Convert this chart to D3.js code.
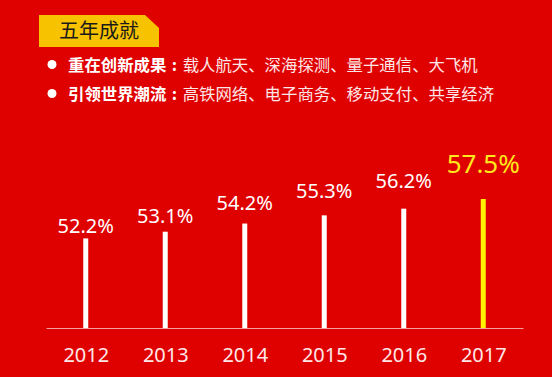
<!DOCTYPE html>
<html lang="zh">
<head>
<meta charset="UTF-8">
<title>五年成就</title>
<script src="https://cdn.jsdelivr.net/npm/d3@7"></script>
<style>
  html, body { margin: 0; padding: 0; background: #fff; }
  svg { display: block; }
</style>
</head>
<body>
<svg id="chart" width="554" height="377"></svg>
<script>
// data
var years = ["2012", "2013", "2014", "2015", "2016", "2017"];
var shares = [52.2, 53.1, 54.2, 55.3, 56.2, 57.5];
var title = "五年成就";
var bulletHeads = ["重在创新成果", "引领世界潮流"];
var bulletTexts = ["载人航天、深海探测、量子通信、大飞机", "高铁网络、电子商务、移动支付、共享经济"];

var W = 554, H = 377;
var red = "#df0000", yellow = "#fff200";
var cjk = "'Noto Sans CJK SC', 'Noto Sans', sans-serif";
var num = "'Noto Sans', 'Open Sans', sans-serif";

var svg = d3.select("#chart");

svg.append("rect").attr("width", W - 2).attr("height", H).attr("fill", red);

// header tag
var tag = svg.append("g");
tag.append("path")
    .attr("d", d3.line()([[39, 15], [145, 15], [159, 28], [159, 47], [39, 47]]))
    .attr("fill", "#f7c200");
tag.append("text")
    .attr("x", 99).attr("y", 38)
    .attr("text-anchor", "middle")
    .attr("font-family", cjk).attr("font-size", 20)
    .attr("fill", "#1a1a1a")
    .text(title);

// bullet lines
var bullets = svg.selectAll("g.bullet")
    .data(bulletHeads)
    .join("g")
    .attr("class", "bullet")
    .attr("transform", function (d, i) { return "translate(0," + (71 + i * 29) + ")"; });
bullets.append("circle").attr("cx", 52).attr("cy", -6.5).attr("r", 4.5).attr("fill", "#fff");
var bt = bullets.append("text")
    .attr("x", 68)
    .attr("font-family", cjk).attr("font-size", 16.4);
bt.append("tspan").attr("font-weight", "bold").attr("fill", "#fff").text(function (d) { return d; });
// colon sits centred in a full-width cell
bt.append("tspan").attr("font-weight", "bold").attr("fill", "#fff")
    .attr("dx", 5.5)
    .text(":");
bt.append("tspan").attr("dx", 5.5).attr("fill", "#fde6e6").text(function (d, i) { return bulletTexts[i]; });

// chart
var base = 328;
var x = d3.scalePoint().domain(years).range([46, 523]).padding(0.5);
var y = d3.scaleLinear().domain([40.15, 57.5]).range([base, 199]);
var labelY = d3.scaleLinear().domain([52.2, 57.5]).range([233, 173]);

var axis = svg.append("g")
    .attr("transform", "translate(0," + base + ")")
    .call(d3.axisBottom(x).tickSize(0).tickPadding(20));
axis.select(".domain").attr("stroke", "#f4a0a0").attr("stroke-width", 1.2);
axis.selectAll("text")
    .attr("font-family", num).attr("font-size", 20)
    .attr("fill", "#fde8e8");

var data = years.map(function (d, i) { return { year: d, v: shares[i], last: i === years.length - 1 }; });

svg.selectAll("rect.bar")
    .data(data)
    .join("rect")
    .attr("class", "bar")
    .attr("x", function (d) { return x(d.year) - 2.5; })
    .attr("width", 5)
    .attr("y", function (d) { return y(d.v); })
    .attr("height", function (d) { return base - y(d.v); })
    .attr("fill", function (d) { return d.last ? yellow : "#fff"; });

svg.selectAll("text.val")
    .data(data)
    .join("text")
    .attr("class", "val")
    .attr("x", function (d) { return x(d.year); })
    .attr("y", function (d) { return labelY(d.v); })
    .attr("text-anchor", "middle")
    .attr("font-family", num)
    .attr("font-size", function (d) { return d.last ? 26 : 20; })
    .attr("fill", function (d) { return d.last ? "#ffe81c" : "#fff"; })
    .text(function (d) { return d3.format(".1f")(d.v) + "%"; });
</script>
</body>
</html>
